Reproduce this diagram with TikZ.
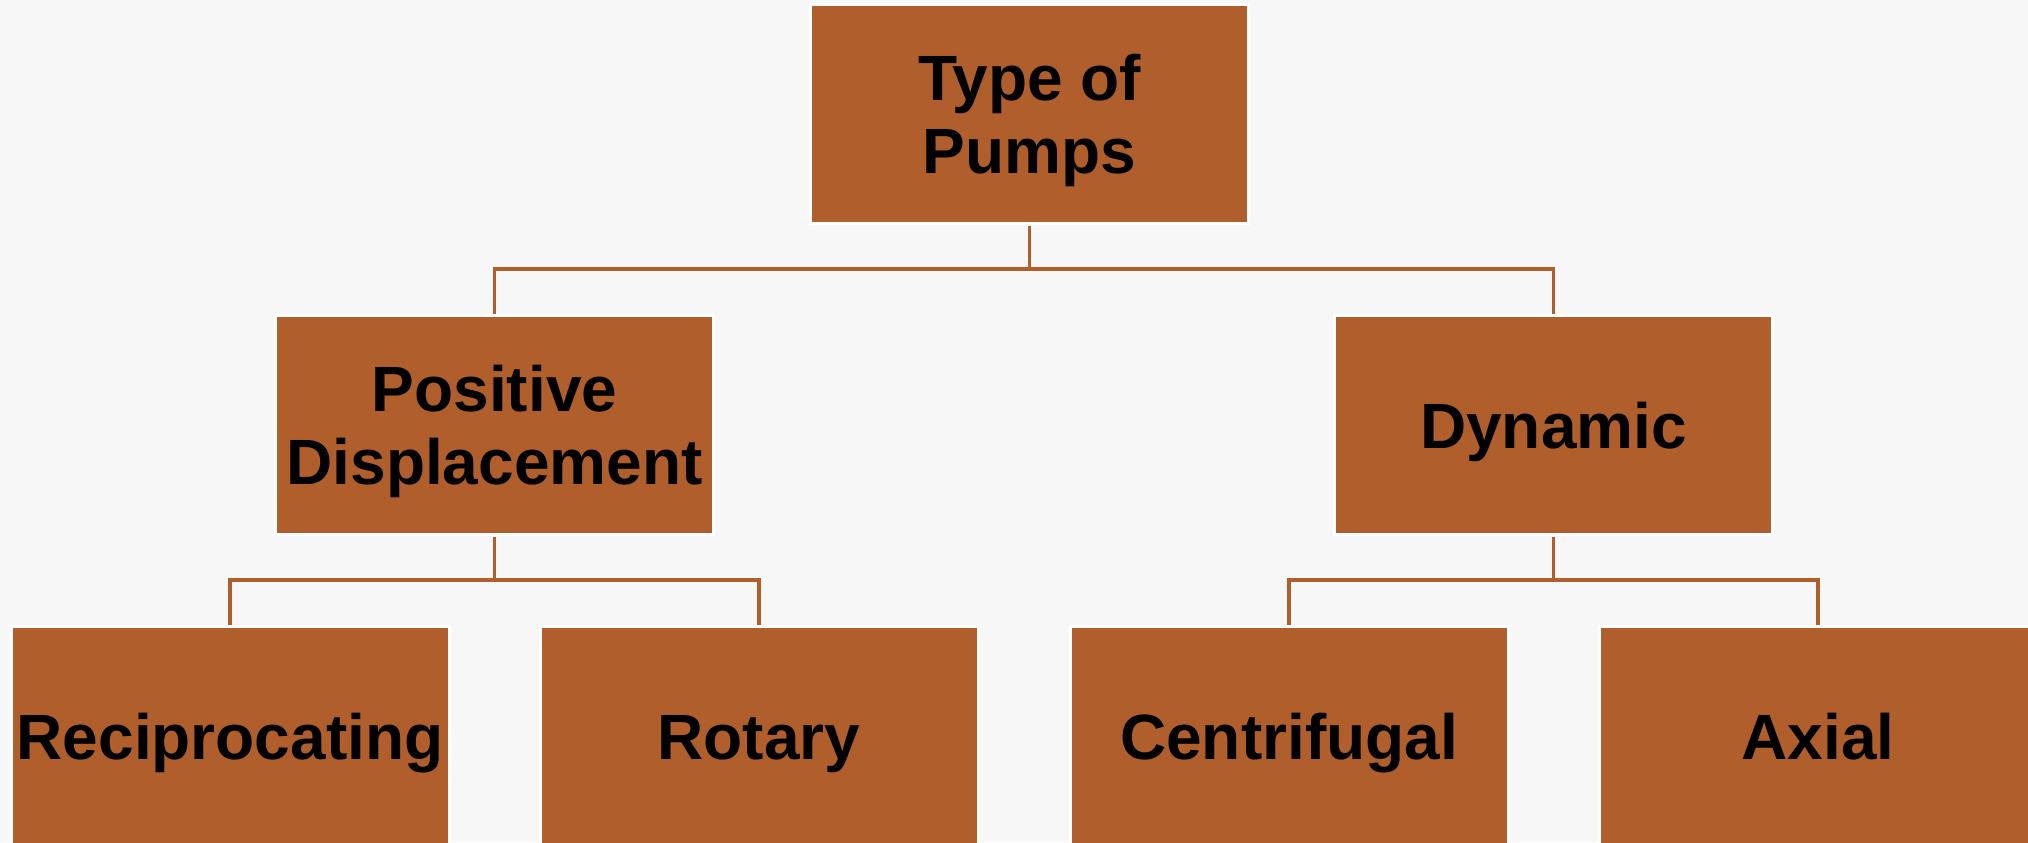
\documentclass[tikz,border=0pt]{standalone}
\usepackage{fontspec}
\setmainfont{Liberation Sans}
\definecolor{rust}{RGB}{176,94,43}
\definecolor{paper}{RGB}{247,247,247}
\newcommand{\firstlinestrut}{\rule{0pt}{29.5pt}}
\begin{document}
\begin{tikzpicture}[x=0.5pt,y=-0.5pt,
  pumpbox/.style={rectangle, fill=rust, draw=white, line width=1.5pt,
    minimum width=219pt, minimum height=109.5pt, inner sep=0pt, outer sep=0pt,
    align=center, text=black, font=\fontsize{32pt}{36.5pt}\selectfont\bfseries},
  oneline/.style={text height=23pt, text depth=0pt},
  link/.style={draw=rust, line width=1.6pt, shorten >=1pt, shorten <=1pt}]
\useasboundingbox (0,0) rectangle (2028,842);
\clip (0,0) rectangle (2028,842);
\fill[paper] (0,0) rectangle (2028,842);

\node[pumpbox] (top) at (1029.5,114) {\firstlinestrut Type of\\Pumps};
\node[pumpbox] (pd)  at (494.5,425) {\firstlinestrut Positive\\Displacement};
\node[pumpbox,oneline] (dyn) at (1553.5,425) {Dynamic};
\node[pumpbox,oneline] (rec) at (230,736) {Reciprocating};
\node[pumpbox,oneline] (rot) at (759,736) {Rotary};
\node[pumpbox,oneline] (cen) at (1289,736) {Centrifugal};
\node[pumpbox,oneline] (ax)  at (1818,736) {Axial};

\coordinate (j0) at (1029.5,269);
\coordinate (j1) at (494.5,580);
\coordinate (j2) at (1553.5,580);

\draw[link, shorten >=0pt] (top.south) -- (j0);
\draw[link, shorten <=0pt] (j0) -| (pd.north);
\draw[link, shorten <=0pt] (j0) -| (dyn.north);
\draw[link, shorten >=0pt] (pd.south) -- (j1);
\draw[link, shorten <=0pt] (j1) -| (rec.north);
\draw[link, shorten <=0pt] (j1) -| (rot.north);
\draw[link, shorten >=0pt] (dyn.south) -- (j2);
\draw[link, shorten <=0pt] (j2) -| (cen.north);
\draw[link, shorten <=0pt] (j2) -| (ax.north);
\end{tikzpicture}
\end{document}
